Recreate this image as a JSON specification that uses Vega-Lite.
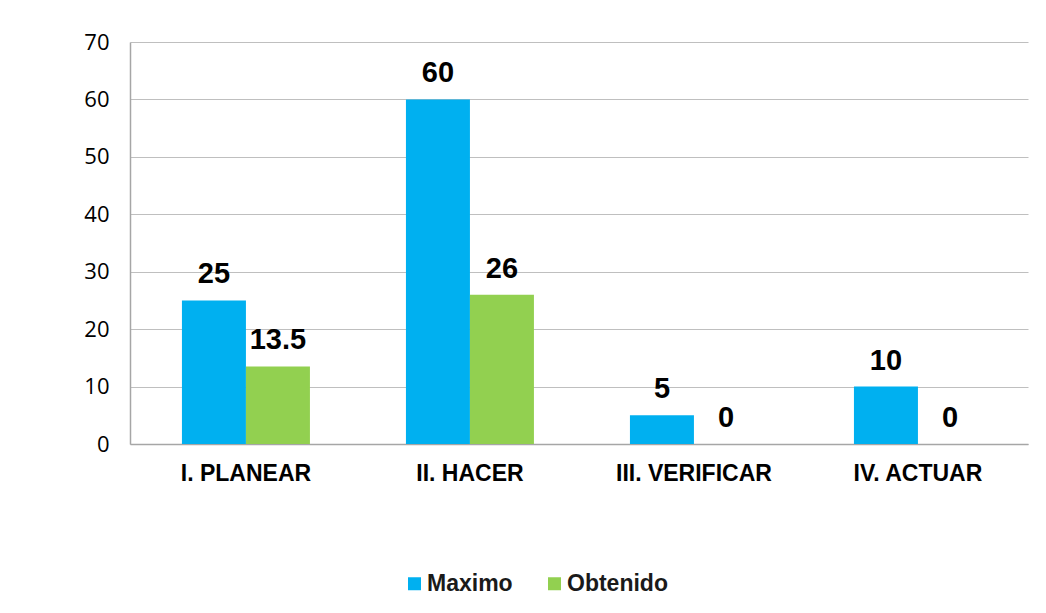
{
  "$schema": "https://vega.github.io/schema/vega-lite/v6.json",
  "autosize": {"type": "none"},
  "padding": {"left": 130, "top": 42, "right": 18, "bottom": 169},
  "width": 898,
  "height": 402,
  "background": "white",
  "data": {"values": [
    {"cat": "I. PLANEAR", "serie": "Maximo", "valor": 25, "lbl": "25"},
    {"cat": "I. PLANEAR", "serie": "Obtenido", "valor": 13.5, "lbl": "13.5"},
    {"cat": "II. HACER", "serie": "Maximo", "valor": 60, "lbl": "60"},
    {"cat": "II. HACER", "serie": "Obtenido", "valor": 26, "lbl": "26"},
    {"cat": "III. VERIFICAR", "serie": "Maximo", "valor": 5, "lbl": "5"},
    {"cat": "III. VERIFICAR", "serie": "Obtenido", "valor": 0, "lbl": "0"},
    {"cat": "IV. ACTUAR", "serie": "Maximo", "valor": 10, "lbl": "10"},
    {"cat": "IV. ACTUAR", "serie": "Obtenido", "valor": 0, "lbl": "0"}
  ]},
  "encoding": {
    "x": {
      "field": "cat", "type": "nominal", "sort": null,
      "scale": {"paddingInner": 0.4286, "paddingOuter": 0.21875, "align": 0.53},
      "axis": {
        "title": null, "labelAngle": 0, "ticks": false,
        "labelFont": "Liberation Sans", "labelFontWeight": "bold", "labelFontSize": 23,
        "labelColor": "#000000", "labelPadding": 18,
        "domainColor": "#a6a6a6", "domainWidth": 1.5
      }
    },
    "xOffset": {"field": "serie", "type": "nominal", "scale": {"paddingInner": 0, "paddingOuter": 0}},
    "y": {
      "field": "valor", "type": "quantitative",
      "scale": {"domain": [0, 70], "nice": false},
      "axis": {
        "title": null, "values": [0, 10, 20, 30, 40, 50, 60, 70], "ticks": false,
        "labelFont": "Open Sans", "labelFontSize": 22, "labelColor": "#000000",
        "labelPadding": 21, "domainColor": "#a6a6a6", "domainWidth": 1.5,
        "gridColor": "#bfbfbf", "gridWidth": 1
      }
    }
  },
  "layer": [
    {
      "mark": {"type": "bar"},
      "encoding": {
        "color": {
          "field": "serie", "type": "nominal",
          "scale": {"domain": ["Maximo", "Obtenido"], "range": ["#00B0F0", "#92D050"]},
          "legend": {
            "title": null, "orient": "none", "direction": "horizontal",
            "legendX": 273, "legendY": 530,
            "symbolType": "square", "symbolSize": 169, "symbolStrokeWidth": 0,
            "labelFont": "Liberation Sans", "labelFontWeight": "bold", "labelFontSize": 23,
            "labelColor": "#1a1a1a", "columnPadding": 30, "labelOffset": 1
          }
        }
      }
    },
    {
      "mark": {"type": "text", "baseline": "alphabetic", "dy": -17, "font": "Liberation Sans", "fontWeight": "bold", "fontSize": 29, "color": "#000000"},
      "encoding": {"text": {"field": "lbl", "type": "nominal"}}
    }
  ],
  "config": {"view": {"stroke": null}, "axis": {"gridColor": "#bfbfbf"}}
}
